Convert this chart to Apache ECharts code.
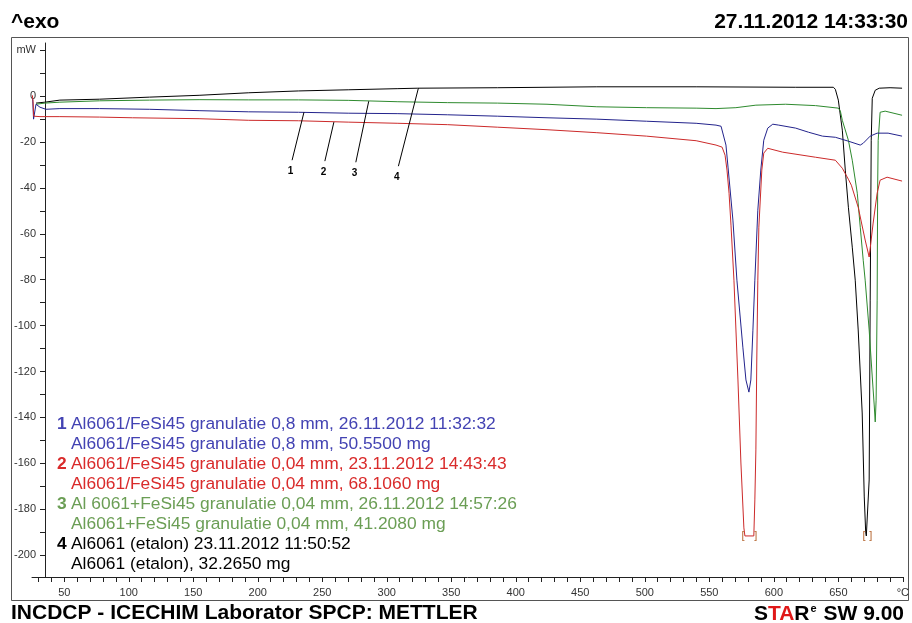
<!DOCTYPE html>
<html>
<head>
<meta charset="utf-8">
<script src="https://cdn.jsdelivr.net/npm/echarts@6/dist/echarts.min.js"></script>
<style>
  html, body { margin: 0; padding: 0; background: #fff; }
  #chart { width: 912px; height: 623px; }
</style>
</head>
<body>
<div id="chart"></div>
<script>
// DSC curves: temperature (°C) and heat flow (mW)
const tempCurve1 = [25.5, 26.2, 28.1, 31.2, 35.8, 46.6, 77.4, 115.9, 154.5, 193, 231.5, 270.1, 308.6, 347.2, 385.7, 424.2, 462.8, 501.3, 539.8, 555.2, 559.1, 560.6, 562.9, 564.5, 568.3, 571.4, 576.0, 578.4, 580.7, 582.2, 583.8, 585.3, 587.6, 589.9, 592.2, 595.3, 599.2, 603.8, 616.9, 626.9, 637.7, 647.7, 657.8, 667.0, 669.3, 674.7, 680.1, 688.6, 699.4];
const mwCurve1 = [-1.0, -10.0, -3.5, -4.8, -5.7, -5.4, -5.4, -5.7, -6.3, -6.8, -7.0, -7.4, -7.6, -8.1, -8.7, -9.4, -10.0, -10.9, -11.8, -12.6, -13.1, -13.9, -21.3, -30.9, -54.0, -80.2, -109.4, -123.7, -129.0, -123.7, -102.0, -80.2, -49.7, -32.2, -19.2, -13.9, -12.2, -12.6, -13.9, -15.7, -17.4, -17.9, -19.6, -21.3, -20.5, -17.4, -16.1, -16.1, -17.4];

const tempCurve2 = [25.3, 25.8, 26.3, 31.2, 46.6, 77.4, 102.8, 154.5, 193, 231.5, 270.1, 308.6, 347.2, 385.7, 424.2, 462.8, 501.3, 539.8, 555.2, 559.9, 562.2, 563.7, 565.3, 566.8, 569.1, 572.2, 574.5, 576.8, 577.6, 584.5, 585.3, 586.1, 586.8, 587.6, 588.4, 590.7, 592.2, 595.3, 606.9, 632.3, 647.7, 653.1, 657.8, 660.1, 665.4, 670.8, 673.9, 677.0, 680.1, 682.4, 687.8, 699.4];
const mwCurve2 = [0.4, -2.2, -8.7, -8.9, -8.9, -9.1, -9.4, -9.8, -10.5, -10.7, -11.3, -11.8, -12.4, -13.5, -14.6, -15.9, -17.4, -19.4, -21.3, -22.2, -25.7, -32.2, -42.3, -56.2, -80.2, -123.7, -159.9, -188.2, -191.7, -191.7, -176.0, -154.2, -115.0, -80.2, -57.1, -32.2, -24.8, -22.7, -24.4, -26.6, -27.9, -31.4, -36.2, -38.8, -48.4, -62.7, -70.1, -55.3, -42.3, -36.6, -35.3, -37.0];

const tempCurve3 = [28.1, 35.0, 46.6, 77.4, 116.0, 154.5, 193.0, 231.5, 270.1, 308.6, 347.2, 385.7, 424.2, 462.8, 501.3, 539.8, 555.2, 570.6, 586.1, 609.2, 632.3, 650.0, 651.6, 653.1, 657.8, 660.8, 664.7, 667.0, 669.3, 670.8, 673.9, 676.3, 677.8, 678.6, 679.3, 680.1, 680.5, 680.9, 682.4, 686.3, 699.4];
const mwCurve3 = [-3.5, -3.0, -2.6, -2.0, -1.7, -1.5, -1.6, -1.6, -1.8, -2.4, -2.8, -3.0, -3.5, -4.6, -5.0, -5.2, -5.4, -5.0, -3.9, -3.5, -4.1, -5.2, -6.5, -10.5, -19.2, -27.9, -42.3, -57.1, -71.5, -80.2, -101.9, -122.4, -134.6, -142.0, -132.5, -88.9, -39.6, -19.2, -7.0, -6.5, -8.3];

const tempCurve4 = [28.1, 35.0, 46.6, 77.4, 116.0, 154.5, 193.0, 231.5, 270.1, 308.6, 324.0, 385.7, 462.8, 539.8, 617.0, 646.2, 647.7, 650.0, 653.1, 655.4, 657.8, 660.8, 663.1, 665.4, 668.5, 670.1, 671.2, 671.7, 673.2, 673.9, 674.7, 675.5, 676.3, 678.6, 681.7, 690.1, 699.4];
const mwCurve4 = [-3.0, -2.6, -1.7, -1.3, -0.4, 0.4, 1.5, 2.3, 2.8, 3.3, 3.5, 3.7, 4.1, 4.1, 3.9, 3.9, 3.0, -1.7, -14.8, -32.2, -48.4, -65.8, -80.2, -101.9, -138.1, -174.7, -190.0, -191.7, -191.7, -167.3, -88.9, -19.2, -0.9, 2.6, 3.5, 3.7, 3.5];

// Curve number tags: [temperature on curve, mW on curve, tag end temperature, tag end mW]
const tagCurve1 = [235.8, -7.0, 226.6, -27.9];
const tagCurve2 = [259.0, -11.3, 252.0, -28.3];
const tagCurve3 = [286.0, -2.2, 276.0, -28.8];
const tagCurve4 = [324.5, 3.5, 309.0, -30.5];

// Off-scale markers where a curve leaves the measuring range
const clipCurve2 = [[577.6, -191.7], [584.5, -191.7]];
const clipCurve4 = [[671.5, -191.7], [673.6, -191.7]];

// Axis ticks and labels
const xLabelValues = [50, 100, 150, 200, 250, 300, 350, 400, 450, 500, 550, 600, 650, 700];
const yLabelValues = [-200, -180, -160, -140, -120, -100, -80, -60, -40, -20, 0, 20];
const xTickValues = [];
for (let t = 30; t <= 700; t += 10) xTickValues.push(t);
const yTickValues = [];
for (let v = -200; v <= 20; v += 10) yTickValues.push(v);

// Sample descriptions
const sampleNames = ['1', '2', '3', '4'];
const sampleLine1 = [
  'Al6061/FeSi45 granulatie 0,8 mm, 26.11.2012 11:32:32',
  'Al6061/FeSi45 granulatie 0,04 mm, 23.11.2012 14:43:43',
  'Al 6061+FeSi45 granulatie 0,04 mm, 26.11.2012 14:57:26',
  'Al6061 (etalon) 23.11.2012 11:50:52'
];
const sampleLine2 = [
  'Al6061/FeSi45 granulatie 0,8 mm, 50.5500 mg',
  'Al6061/FeSi45 granulatie 0,04 mm, 68.1060 mg',
  'Al6061+FeSi45 granulatie 0,04 mm, 41.2080 mg',
  'Al6061 (etalon), 32.2650 mg'
];

const curveColors = ['#23238c', '#cc2a2a', '#2e8a2e', '#000000'];
const textColors = ['#4343b3', '#d92b2b', '#6b9e55', '#000000'];

const FAMILY = '"Liberation Sans", Arial, sans-serif';

function pairs(ts, vs) { return ts.map((t, i) => [t, vs[i]]); }

function tagLine(tag, name) {
  return {
    silent: true,
    symbol: ['none', 'none'],
    lineStyle: { color: '#000', width: 1, type: 'solid' },
    label: {
      show: true, position: 'end', formatter: name, distance: 6,
      color: '#000', fontSize: 10, fontWeight: 'bold', fontFamily: FAMILY
    },
    emphasis: { disabled: true },
    data: [[{ coord: [tag[0], tag[1]] }, { coord: [tag[2], tag[3]] }]]
  };
}

function clipMarks(pts) {
  return {
    silent: true,
    symbol: 'circle', symbolSize: 0,
    label: { show: true, color: '#b5652f', fontSize: 11, fontFamily: FAMILY },
    data: [
      { coord: pts[0], label: { formatter: '[', offset: [-2, 0] } },
      { coord: pts[1], label: { formatter: ']', offset: [2, 0] } }
    ]
  };
}

const curves = [
  pairs(tempCurve1, mwCurve1),
  pairs(tempCurve2, mwCurve2),
  pairs(tempCurve3, mwCurve3),
  pairs(tempCurve4, mwCurve4)
];
const tags = [tagCurve1, tagCurve2, tagCurve3, tagCurve4];

// draw order: black, green, blue, red
const drawOrder = [3, 2, 0, 1];
const series = drawOrder.map(i => {
  const s = {
    type: 'line',
    name: sampleNames[i],
    data: curves[i],
    showSymbol: false,
    symbol: 'none',
    animation: false,
    lineStyle: { color: curveColors[i], width: 1 },
    markLine: tagLine(tags[i], sampleNames[i])
  };
  if (i === 1) s.markPoint = clipMarks(clipCurve2);
  if (i === 3) s.markPoint = clipMarks(clipCurve4);
  return s;
});

// legend block drawn as text lines
const legendGraphics = [];
const legendTop = 416;
const LEG_SIZE = 17.4;
for (let i = 0; i < 4; i++) {
  const y = legendTop + i * 40;
  legendGraphics.push({
    type: 'text', left: 57, top: y,
    style: { text: sampleNames[i], fill: textColors[i], fontSize: LEG_SIZE, fontWeight: 'bold', fontFamily: FAMILY }
  });
  legendGraphics.push({
    type: 'text', left: 71, top: y,
    style: { text: sampleLine1[i], fill: textColors[i], fontSize: LEG_SIZE, fontFamily: FAMILY }
  });
  legendGraphics.push({
    type: 'text', left: 71, top: y + 19.5,
    style: { text: sampleLine2[i], fill: textColors[i], fontSize: LEG_SIZE, fontFamily: FAMILY }
  });
}

const chart = echarts.init(document.getElementById('chart'), null, { renderer: 'canvas' });
chart.setOption({
  animation: false,
  backgroundColor: '#ffffff',
  grid: { left: 32, right: 4, top: 43, bottom: 46 },
  xAxis: {
    type: 'value', min: 25, max: 700,
    axisLine: { show: true, onZero: false, lineStyle: { color: '#222', width: 1 } },
    axisTick: { show: true, customValues: xTickValues, length: 5, lineStyle: { color: '#222' } },
    axisLabel: {
      show: true, customValues: xLabelValues, margin: 10,
      color: '#333', fontSize: 11, fontFamily: FAMILY,
      formatter: v => (v === 700 ? '°C' : String(v))
    },
    splitLine: { show: false }
  },
  yAxis: {
    type: 'value', min: -209.6, max: 23.2, offset: -13,
    axisLine: { show: true, onZero: false, lineStyle: { color: '#222', width: 1 } },
    axisTick: { show: true, customValues: yTickValues, length: 5, lineStyle: { color: '#222' } },
    axisLabel: {
      show: true, customValues: yLabelValues, margin: 9,
      color: '#333', fontSize: 11, fontFamily: FAMILY,
      formatter: v => (v === 20 ? 'mW' : String(v))
    },
    splitLine: { show: false }
  },
  series: series,
  graphic: [
    {
      type: 'rect', silent: true, z: 0,
      shape: { x: 11.5, y: 37.5, width: 897, height: 563 },
      style: { fill: 'none', stroke: '#555', lineWidth: 1 }
    },
    {
      type: 'text', left: 11, top: 12,
      style: { text: '^exo', fill: '#000', fontSize: 21, fontWeight: 'bold', fontFamily: FAMILY }
    },
    {
      type: 'text', right: 4, top: 12,
      style: { text: '27.11.2012 14:33:30', fill: '#000', fontSize: 21, fontWeight: 'bold', fontFamily: FAMILY }
    },
    {
      type: 'text', left: 11, top: 603,
      style: { text: 'INCDCP - ICECHIM Laborator SPCP: METTLER', fill: '#000', fontSize: 21, fontWeight: 'bold', fontFamily: FAMILY }
    },
    {
      type: 'text', right: 8, top: 603,
      style: {
        text: '{b|S}{r|TA}{b|R}{s|e}{b| SW 9.00}',
        rich: {
          b: { fill: '#000', fontSize: 21, fontWeight: 'bold', fontFamily: FAMILY, lineHeight: 22 },
          r: { fill: '#e01818', fontSize: 21, fontWeight: 'bold', fontFamily: FAMILY, lineHeight: 22 },
          s: { fill: '#000', fontSize: 11, fontWeight: 'bold', fontFamily: FAMILY, lineHeight: 22, verticalAlign: 'top', padding: [0, 1, 0, 1] }
        }
      }
    }
  ].concat(legendGraphics)
});
</script>
</body>
</html>
